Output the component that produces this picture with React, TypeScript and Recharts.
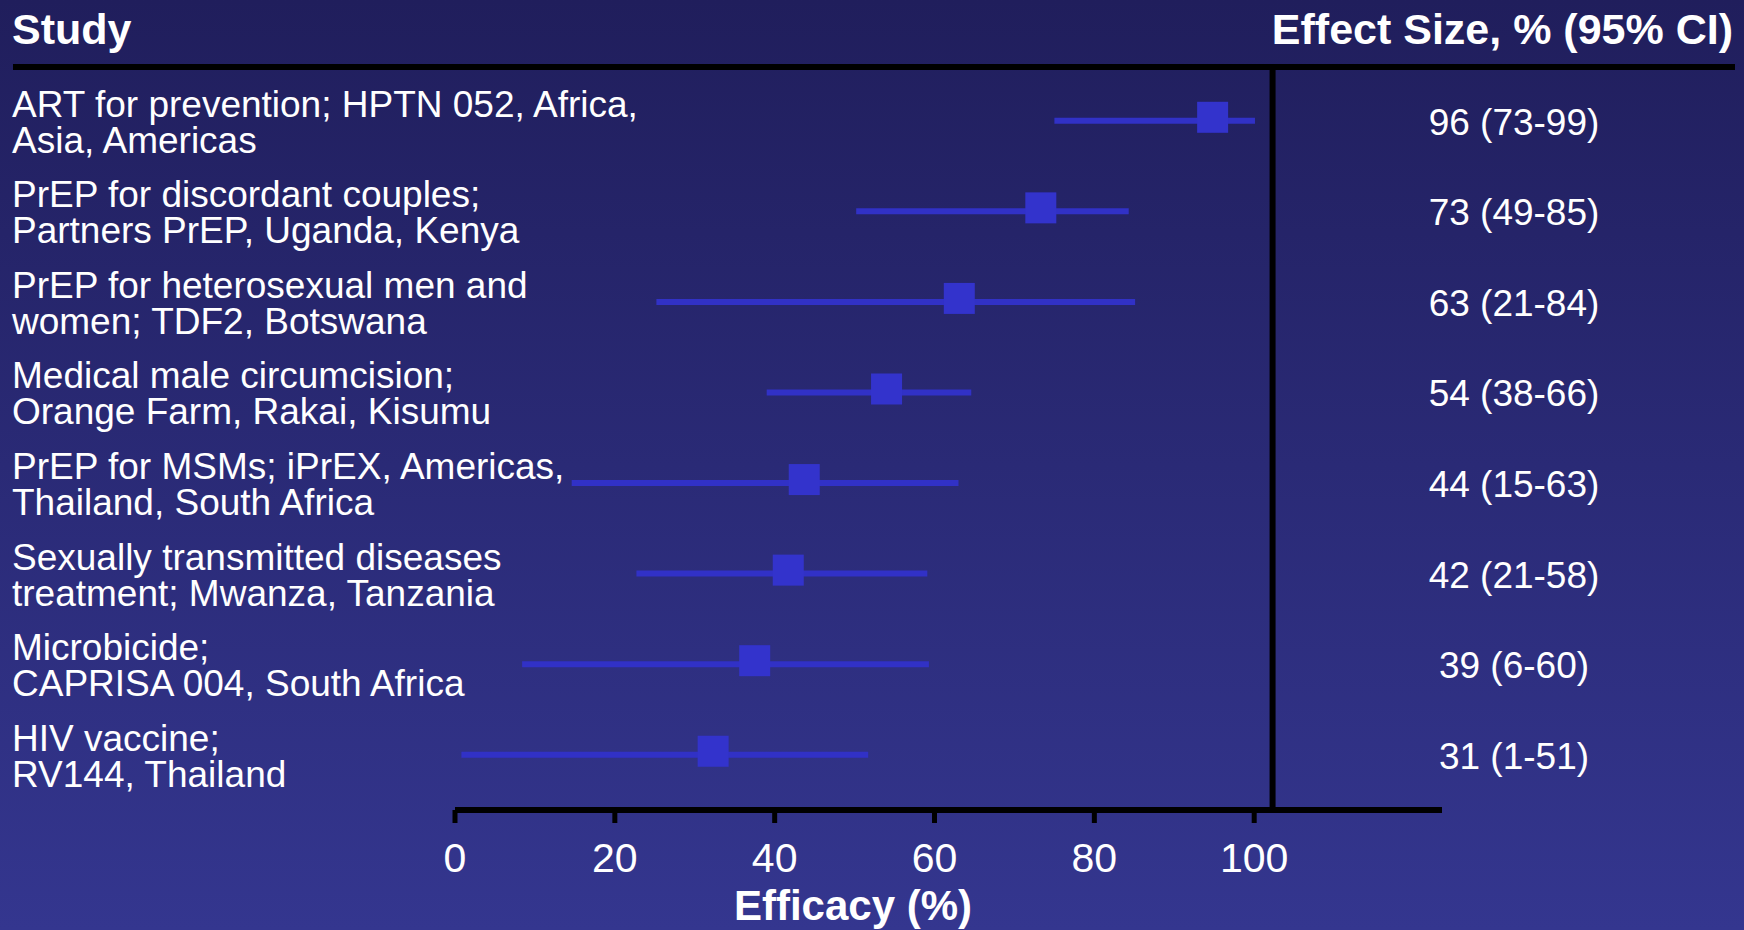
import React from 'react';
import {
  ScatterChart,
  Scatter,
  XAxis,
  YAxis,
  ErrorBar,
  ReferenceLine,
} from 'recharts';

// study names, split the way the slide wraps them
const studyLines: string[][] = [
  ['ART for prevention; HPTN 052, Africa,', 'Asia, Americas'],
  ['PrEP for discordant couples;', 'Partners PrEP, Uganda, Kenya'],
  ['PrEP for heterosexual men and', 'women; TDF2, Botswana'],
  ['Medical male circumcision;', 'Orange Farm, Rakai, Kisumu'],
  ['PrEP for MSMs; iPrEX, Americas,', 'Thailand, South Africa'],
  ['Sexually transmitted diseases', 'treatment; Mwanza, Tanzania'],
  ['Microbicide;', 'CAPRISA 004, South Africa'],
  ['HIV vaccine;', 'RV144, Thailand'],
];

// what is drawn
const effects = [94.8, 73.3, 63.1, 54.0, 43.7, 41.7, 37.5, 32.3];
const lower = [75.0, 50.2, 25.2, 39.0, 14.6, 22.7, 8.4, 0.8];
const upper = [100.1, 84.3, 85.1, 64.6, 63.0, 59.1, 59.3, 51.7];

// right-hand column text
const effectLabels = [
  '96 (73-99)',
  '73 (49-85)',
  '63 (21-84)',
  '54 (38-66)',
  '44 (15-63)',
  '42 (21-58)',
  '39 (6-60)',
  '31 (1-51)',
];

const xTicks = [0, 20, 40, 60, 80, 100];
const xMax = 123.5;
const dividerAt = 102.3;

const W = 1744;
const H = 930;
const FONT = '"Liberation Sans", Arial, Helvetica, sans-serif';
const MARK = '#3333cc';

const data = effects.map((e, i) => ({
  row: i,
  effect: e,
  err: [e - lower[i], upper[i] - e],
}));
const rowTicks = data.map(d => d.row);

const StudyTick = ({ y, payload }: any) => {
  const lines = studyLines[payload.value] || [];
  return (
    <g>
      {lines.map((l, k) => (
        <text key={k} x={12} y={y - 4 + k * 36} fill="#fff" fontSize={37} fontFamily={FONT}>
          {l}
        </text>
      ))}
    </g>
  );
};

const EffectTick = ({ y, payload }: any) => (
  <text x={1514} y={y + 14} fill="#fff" fontSize={37} fontFamily={FONT} textAnchor="middle">
    {effectLabels[payload.value]}
  </text>
);

const SquareMark = ({ cx, cy }: any) => (
  <rect x={cx - 15.5} y={cy - 19} width={31} height={31} fill={MARK} />
);

export default function App() {
  return (
    <div
      style={{
        position: 'absolute',
        top: 0,
        left: 0,
        width: W,
        height: H,
        background: 'linear-gradient(to bottom, #201e5c 0%, #2a2a76 50%, #34368f 100%)',
        fontFamily: FONT,
        overflow: 'hidden',
      }}
    >
      <ScatterChart width={W} height={H} margin={{ top: 67, right: 0, bottom: 0, left: 0 }}>
        <XAxis
          type="number"
          dataKey="effect"
          domain={[0, xMax]}
          ticks={xTicks}
          interval={0}
          height={120}
          axisLine={{ stroke: '#000', strokeWidth: 6 }}
          tickLine={{ stroke: '#000', strokeWidth: 5 }}
          tickSize={13}
          tickMargin={20}
          tick={{ fill: '#fff', fontSize: 41, fontFamily: FONT }}
        />
        <YAxis
          yAxisId="left"
          type="number"
          dataKey="row"
          domain={[-0.594, 7.61]}
          reversed
          ticks={rowTicks}
          interval={0}
          width={455}
          axisLine={false}
          tickLine={false}
          tick={<StudyTick />}
        />
        <YAxis
          yAxisId="right"
          orientation="right"
          type="number"
          dataKey="row"
          domain={[-0.594, 7.61]}
          reversed
          ticks={rowTicks}
          interval={0}
          width={302}
          axisLine={false}
          tickLine={false}
          tick={<EffectTick />}
        />
        <ReferenceLine yAxisId="left" x={dividerAt} stroke="#000" strokeWidth={6} />
        <Scatter
          yAxisId="left"
          data={data}
          shape={<SquareMark />}
          isAnimationActive={false}
        >
          <ErrorBar dataKey="err" direction="x" width={0} stroke="#3131c6" strokeWidth={6} isAnimationActive={false} />
        </Scatter>
        <Scatter
          yAxisId="right"
          data={data}
          shape={() => null}
          isAnimationActive={false}
        />
      </ScatterChart>

      {/* header row, rule and axis title sit outside the plot area */}
      <svg
        width={W}
        height={H}
        style={{ position: 'absolute', top: 0, left: 0, pointerEvents: 'none' }}
      >
        <text x={12} y={44} fill="#fff" fontSize={43} fontWeight="bold" fontFamily={FONT}>
          Study
        </text>
        <text x={1733} y={44} fill="#fff" fontSize={43} fontWeight="bold" fontFamily={FONT} textAnchor="end">
          Effect Size, % (95% CI)
        </text>
        <line x1={13} y1={67} x2={1735} y2={67} stroke="#000" strokeWidth={6} />
        <text x={853} y={920} fill="#fff" fontSize={42} fontWeight="bold" fontFamily={FONT} textAnchor="middle">
          Efficacy (%)
        </text>
      </svg>
    </div>
  );
}
